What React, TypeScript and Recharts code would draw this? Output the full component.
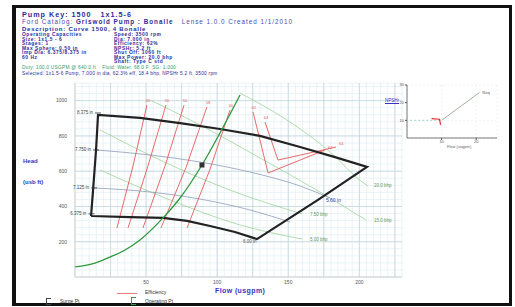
import {
  ComposedChart,
  LineChart,
  Line,
  Scatter,
  XAxis,
  YAxis,
  CartesianGrid,
  ReferenceLine,
  ReferenceDot,
} from "recharts";

const FONT = "'Liberation Sans', Arial, sans-serif";
const BLUE = "#2a2c9c";

// main curve: flow (usgpm) vs head (ft)
const flowTicks = [50, 100, 150, 200];
const headTicks = [200, 400, 600, 800, 1000];
const majorFlow = [25, 50, 75, 100, 125, 150, 175, 200, 225];
const majorHead = [200, 400, 600, 800, 1000];
const minorFlow = Array.from({ length: 47 }, (_, i) => i * 5);
const minorHead = Array.from({ length: 28 }, (_, i) => i * 40);

// operating envelope (max impeller on top, min impeller on bottom)
const envelope = [
  { x: 11.3, y: 346 },
  { x: 12.7, y: 493 },
  { x: 14.8, y: 720 },
  { x: 16.2, y: 919 },
  { x: 45.7, y: 902 },
  { x: 73.9, y: 873 },
  { x: 102, y: 839 },
  { x: 130.1, y: 800 },
  { x: 158.3, y: 737 },
  { x: 182.9, y: 680 },
  { x: 205.4, y: 624 },
  { x: 170.9, y: 437 },
  { x: 128, y: 215 },
  { x: 112.5, y: 255 },
  { x: 95, y: 289 },
  { x: 78.8, y: 318 },
  { x: 61.9, y: 335 },
  { x: 38.7, y: 340 },
  { x: 11.3, y: 346 },
];

// system curve
const systemCurve = [
  { x: 0, y: 57 },
  { x: 14.1, y: 79 },
  { x: 24.6, y: 113 },
  { x: 35.2, y: 153 },
  { x: 45.7, y: 210 },
  { x: 61.9, y: 335 },
  { x: 73.9, y: 448 },
  { x: 89.3, y: 635 },
  { x: 102, y: 817 },
  { x: 116.1, y: 1032 },
];
const operatingPt = [{ x: 89.3, y: 635 }];

// intermediate impeller diameters
const imp7750 = [
  { x: 14.8, y: 720 },
  { x: 52.8, y: 692 },
  { x: 87.9, y: 652 },
  { x: 123.1, y: 595 },
  { x: 158.3, y: 516 },
  { x: 179.4, y: 448 },
];
const imp7125 = [
  { x: 13.4, y: 505 },
  { x: 52.8, y: 482 },
  { x: 87.9, y: 442 },
  { x: 123.1, y: 380 },
  { x: 151.2, y: 312 },
];
const diaMarks = [
  { x: 16.2, y: 930, label: "8.375 in" },
  { x: 14.8, y: 720, label: "7.750 in" },
  { x: 13.4, y: 505, label: "7.125 in" },
  { x: 11.5, y: 358, label: "6.375 in" },
];

// power lines
const bhp20 = [
  { x: 116.1, y: 1043 },
  { x: 151.2, y: 879 },
  { x: 179.4, y: 709 },
  { x: 201.9, y: 539 },
  { x: 206.1, y: 516 },
];
const bhp15 = [
  { x: 52.8, y: 1004 },
  { x: 87.9, y: 862 },
  { x: 130.1, y: 675 },
  { x: 172.3, y: 482 },
  { x: 204.7, y: 323 },
];
const bhp75 = [
  { x: 17.6, y: 834 },
  { x: 59.8, y: 663 },
  { x: 109, y: 493 },
  { x: 160, y: 357 },
];
const bhp5 = [
  { x: 17.6, y: 607 },
  { x: 66.8, y: 437 },
  { x: 116.1, y: 295 },
  { x: 160, y: 215 },
];
const bhpLines = [bhp20, bhp15, bhp75, bhp5];
const bhpLabels = [
  { x: 210.3, y: 516, label: "20.0 bhp" },
  { x: 210.3, y: 318, label: "15.0 bhp" },
  { x: 165.3, y: 352, label: "7.50 bhp" },
  { x: 165.3, y: 210, label: "5.00 bhp" },
];

// efficiency iso-lines
const eff45 = [
  { x: 29.5, y: 278 },
  { x: 40.8, y: 629 },
  { x: 50.6, y: 975 },
];
const eff50 = [
  { x: 37.3, y: 278 },
  { x: 51.3, y: 629 },
  { x: 64, y: 975 },
];
const eff55 = [
  { x: 47.8, y: 278 },
  { x: 63.3, y: 629 },
  { x: 76.7, y: 975 },
];
const eff58 = [
  { x: 60.5, y: 278 },
  { x: 78.1, y: 621 },
  { x: 92.8, y: 964 },
];
const eff60 = [
  { x: 78.8, y: 278 },
  { x: 95, y: 612 },
  { x: 109, y: 947 },
];
const eff62 = [
  { x: 125.2, y: 936 },
  { x: 135.8, y: 590 },
  { x: 175.8, y: 720 },
];
const eff64 = [
  { x: 133.6, y: 879 },
  { x: 142.8, y: 663 },
  { x: 183.6, y: 737 },
];
const effLines = [eff45, eff50, eff55, eff58, eff60, eff62, eff64];
const effLabels = ["45", "50", "55", "58", "60", "62", "64"];

// NPSH inset
const npshFlowTicks = [10, 20];
const npshTicks = [10, 20, 30];
const npshReq = [
  { x: 10, y: 10 },
  { x: 20.9, y: 25.7 },
];
const npshAvail = [
  { x: 0.9, y: 10 },
  { x: 9.4, y: 10 },
];
const npshMark = [
  { x: 7.1, y: 11 },
  { x: 9.4, y: 10.6 },
  { x: 9.7, y: 7.4 },
];

const tag = (
  key: string,
  x: number,
  y: number,
  text: string,
  color: string,
  dx = 0,
  dy = 0,
  anchor = "start",
  size = 4.5
) => (
  <ReferenceDot
    key={key}
    x={x}
    y={y}
    r={0}
    shape={(p: any) => (
      <text
        x={p.cx + dx}
        y={p.cy + dy}
        fontSize={size}
        fill={color}
        textAnchor={anchor}
        dominantBaseline="middle"
        fontFamily={FONT}
      >
        {text}
      </text>
    )}
  />
);

const abs = (left: number, top: number, extra: any = {}) => ({
  position: "absolute" as const,
  left,
  top,
  whiteSpace: "nowrap" as const,
  lineHeight: 1,
  ...extra,
});

const leftInfo = [
  "Operating Capacities",
  "Size: 1x1.5 - 6",
  "Stages: 1",
  "Max Sphere: 0.50 in",
  "Imp Dia: 6.375/8.375 in",
  "60 Hz",
];
const rightInfo = [
  "Speed: 3500 rpm",
  "Dia: 7.000 in",
  "Efficiency: 62%",
  "NPSHr: 5.2 ft",
  "Shut Off: 1060 ft",
  "Max Power: 20.0 bhp",
  "Shaft: Type C std",
];

const colText = { fontSize: 4.9, fontWeight: 700, color: BLUE, letterSpacing: 0.55 };

export default function App() {
  return (
    <div
      style={{
        position: "absolute",
        left: 0,
        top: 0,
        width: 515,
        height: 307,
        background: "#fff",
        overflow: "hidden",
        fontFamily: FONT,
      }}
    >
      <div
        style={{
          position: "absolute",
          left: 12,
          top: 5,
          width: 493,
          height: 295,
          border: "3px solid #111",
          borderLeftWidth: 4,
        }}
      />

      {/* header block */}
      <div style={abs(22, 11, { fontSize: 7.2, fontWeight: 700, color: BLUE, letterSpacing: 1 })}>
        Pump Key: 1500&nbsp;&nbsp;&nbsp;1x1.5-6
      </div>
      <div style={abs(22, 19, { fontSize: 6.3, color: "#4a4ab8", letterSpacing: 1 })}>
        Ford Catalog: <b style={{ color: BLUE }}>Griswold Pump : Bonalle</b>&nbsp;&nbsp;&nbsp;Lense 1.0.0 Created 1/1/2010
      </div>
      <div style={abs(22, 26.3, { fontSize: 6, fontWeight: 700, color: BLUE, letterSpacing: 0.75 })}>
        Description: Curve 1500, 4 Bonalle
      </div>
      {leftInfo.map((t, i) => (
        <div key={t} style={abs(22, 33 + i * 4.5, colText)}>
          {t}
        </div>
      ))}
      {rightInfo.map((t, i) => (
        <div key={t} style={abs(114, 33 + i * 4.5, colText)}>
          {t}
        </div>
      ))}
      <div style={abs(22, 66.2, { fontSize: 4.8, color: "#2f9a6a", letterSpacing: 0.25 })}>
        Duty: 100.0 USGPM @ 640.0 ft&nbsp;&nbsp;&nbsp;&nbsp;Fluid: Water, 68.0 F&nbsp;&nbsp;SG: 1.000
      </div>
      <div style={abs(22, 71.5, { fontSize: 4.8, color: BLUE, letterSpacing: 0.25 })}>
        Selected: 1x1.5-6 Pump, 7.000 in dia, 62.3% eff, 18.4 bhp, NPSHr 5.2 ft, 3500 rpm
      </div>

      {/* axis titles */}
      <div style={abs(23, 158, { fontSize: 6, fontWeight: 700, color: "#3535c0" })}>Head</div>
      <div style={abs(23, 179, { fontSize: 6, fontWeight: 700, color: "#3535c0" })}>(usb ft)</div>
      <div style={abs(215, 287, { fontSize: 7, fontWeight: 700, color: "#3535c0", letterSpacing: 0.4 })}>
        Flow (usgpm)
      </div>

      {/* legend */}
      <div style={abs(117, 293, { width: 20, height: 0, borderTop: "1px solid #e88080" })} />
      <div style={abs(145, 290, { fontSize: 5, color: "#333" })}>Efficiency</div>
      <div style={abs(46, 298, { width: 4, height: 5, border: "1px solid #444", borderRight: "none" })} />
      <div style={abs(60, 299, { fontSize: 5, color: "#333" })}>Surge Pt</div>
      <div style={abs(131, 297, { width: 4, height: 6, border: "1px solid #2e9a3e", borderRight: "none" })} />
      <div style={abs(145, 299, { fontSize: 5, color: "#333" })}>Operating Pt</div>

      {/* main chart */}
      <div style={{ position: "absolute", left: 0, top: 0 }}>
        <ComposedChart width={515} height={307} margin={{ top: 83, right: 113, bottom: 0, left: 40 }}>
          <CartesianGrid stroke="#e2eef2" strokeWidth={0.7} />
          <XAxis
            type="number"
            dataKey="x"
            domain={[0, 230]}
            ticks={minorFlow}
            interval={0}
            height={30}
            axisLine={{ stroke: "#bbb", strokeWidth: 0.7 }}
            tickLine={false}
            tickSize={2}
            tickMargin={1}
            tick={{ fontSize: 5, fill: "#555", fontFamily: FONT }}
            tickFormatter={(v) => (flowTicks.includes(v) ? String(v) : "")}
          />
          <YAxis
            type="number"
            dataKey="y"
            domain={[0, 1100]}
            ticks={minorHead}
            interval={0}
            width={35}
            axisLine={{ stroke: "#bbb", strokeWidth: 0.7 }}
            tickLine={false}
            tickSize={4}
            tickMargin={4}
            tick={{ fontSize: 5, fill: "#555", fontFamily: FONT }}
            tickFormatter={(v) => (headTicks.includes(v) ? String(v) : "")}
          />
          {majorFlow.map((v) => (
            <ReferenceLine key={"fx" + v} x={v} stroke="#c3d8df" strokeWidth={0.8} />
          ))}
          {majorHead.map((v) => (
            <ReferenceLine key={"hy" + v} y={v} stroke="#c3d8df" strokeWidth={0.8} />
          ))}

          {bhpLines.map((d, i) => (
            <Line
              key={"bhp" + i}
              data={d}
              dataKey="y"
              type="monotone"
              stroke="#9fd49a"
              strokeWidth={0.8}
              dot={false}
              activeDot={false}
              isAnimationActive={false}
            />
          ))}
          <Line data={imp7750} dataKey="y" type="monotone" stroke="#8e9db8" strokeWidth={0.8} dot={false} isAnimationActive={false} />
          <Line data={imp7125} dataKey="y" type="monotone" stroke="#8e9db8" strokeWidth={0.8} dot={false} isAnimationActive={false} />
          {effLines.map((d, i) => (
            <Line
              key={"eff" + i}
              data={d}
              dataKey="y"
              type="linear"
              stroke="#e35a5a"
              strokeWidth={0.9}
              dot={false}
              activeDot={false}
              isAnimationActive={false}
            />
          ))}
          <Line data={envelope} dataKey="y" type="linear" stroke="#222" strokeWidth={2.2} dot={false} isAnimationActive={false} />
          <Line data={systemCurve} dataKey="y" type="monotone" stroke="#2e9a3e" strokeWidth={1.3} dot={false} isAnimationActive={false} />
          <Scatter
            data={operatingPt}
            dataKey="y"
            isAnimationActive={false}
            shape={(p: any) => <rect x={p.cx - 2.5} y={p.cy - 2.5} width={5} height={5} fill="#333" />}
          />

          {effLines.map((d, i) => {
            const top = i < 5 ? d[2] : d[0];
            return tag("et" + i, top.x, top.y, effLabels[i], "#e35a5a", 1, -4, "middle", 4);
          })}
          {tag("ee62", eff62[2].x, eff62[2].y, "62", "#e35a5a", 3, -2, "start", 4)}
          {tag("ee64", eff64[2].x, eff64[2].y, "64", "#e35a5a", 3, -3, "start", 4)}
          {bhpLabels.map((b) => tag("bl" + b.label, b.x, b.y, b.label, "#5c9a58"))}
          {diaMarks.map((m) => (
            <ReferenceDot
              key={"dm" + m.label}
              x={m.x}
              y={m.y}
              r={0}
              shape={(p: any) => (
                <g>
                  <line x1={p.cx - 3} x2={p.cx + 3} y1={p.cy} y2={p.cy} stroke="#333" strokeWidth={0.8} />
                  <text x={p.cx - 5} y={p.cy} fontSize={4.5} fill="#444" textAnchor="end" dominantBaseline="middle" fontFamily={FONT}>
                    {m.label}
                  </text>
                </g>
              )}
            />
          ))}
          {tag("d560", 176.5, 431, "5.60 in", "#3535c0", 0, 0, "start", 5)}
          {tag("d600", 118.2, 198, "6.00 in", "#555", 0, 0, "start", 4.5)}
        </ComposedChart>
      </div>

      {/* NPSH inset */}
      <div style={abs(385, 99, { fontSize: 4.5, color: "#3535c0", textDecoration: "underline" })}>NPSHr</div>
      <div style={abs(447, 145, { fontSize: 4, color: "#666" })}>Flow (usgpm)</div>
      <div style={{ position: "absolute", left: 380, top: 78 }}>
        <LineChart width={125} height={78} margin={{ top: 7, right: 8, bottom: 0, left: 2 }}>
          <CartesianGrid stroke="#e4ecef" strokeWidth={0.6} strokeDasharray="2 2" />
          <XAxis
            type="number"
            dataKey="x"
            domain={[0, 26]}
            ticks={npshFlowTicks}
            height={18}
            axisLine={{ stroke: "#555", strokeWidth: 0.8 }}
            tickLine={{ stroke: "#555" }}
            tickSize={2}
            tickMargin={0}
            tick={{ fontSize: 4, fill: "#555", fontFamily: FONT }}
          />
          <YAxis
            type="number"
            dataKey="y"
            domain={[0, 30]}
            ticks={npshTicks}
            width={25}
            axisLine={{ stroke: "#555", strokeWidth: 0.8 }}
            tickLine={{ stroke: "#555" }}
            tickSize={2}
            tickMargin={1}
            tick={{ fontSize: 4, fill: "#555", fontFamily: FONT }}
          />
          <Line data={npshAvail} dataKey="y" stroke="#8fcfc8" strokeWidth={0.8} strokeDasharray="2 2" dot={false} isAnimationActive={false} />
          <Line data={npshReq} dataKey="y" stroke="#9aa79a" strokeWidth={0.9} dot={false} isAnimationActive={false} />
          <Line data={npshMark} dataKey="y" stroke="#e03030" strokeWidth={1.2} dot={false} isAnimationActive={false} />
          {tag("req", npshReq[1].x, npshReq[1].y, "Req", "#555", 3, 0, "start", 4)}
        </LineChart>
      </div>
    </div>
  );
}
